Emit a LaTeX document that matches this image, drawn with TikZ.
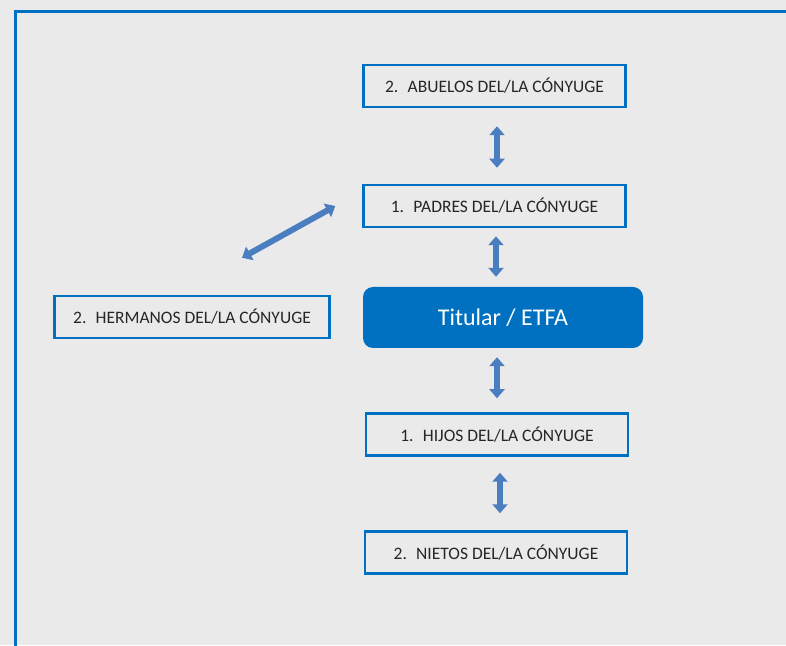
\documentclass[tikz,border=0pt]{standalone}
\usepackage{fontspec}
\setmainfont{Carlito}
\usetikzlibrary{positioning}
\usetikzlibrary{arrows.meta}
\definecolor{marco}{RGB}{0,112,192}
\definecolor{fondo}{RGB}{234,234,234}
\definecolor{flecha}{RGB}{74,126,193}
\definecolor{texto}{RGB}{38,38,38}

\begin{document}
\begin{tikzpicture}[x=1pt,y=1pt,node distance=117pt,
        pariente/.style={draw=marco,line width=2.5pt,minimum width=262pt,minimum height=42pt,
            inner sep=0pt,text=texto,font=\fontsize{17.5}{20}\selectfont},
        titular/.style={fill=marco,rounded corners=10pt,minimum width=280pt,minimum height=61pt,
            text=white,font=\fontsize{24}{28}\selectfont},
        flechas/.style={draw=flecha,line width=6pt,
            {Triangle[width=15pt,length=9pt]}-{Triangle[width=15pt,length=9pt]}}]

  % fondo y marco
  \useasboundingbox (0,0) rectangle (786,645);
  \clip (0,0) rectangle (786,645);
  \fill[fondo] (0,0) rectangle (786,645);
  \draw[marco,line width=3pt] (15,-20) -- (15,633) -- (800,633);

  \node[titular] (tit) at (503,327.5) {Titular / ETFA};
  \node[pariente] (pad) [above of=tit,xshift=-8.5pt,yshift=-5.5pt] {1.~ PADRES DEL/LA CÓNYUGE};
  \node[pariente] (abu) [above of=pad,yshift=3pt] {2.~ ABUELOS DEL/LA CÓNYUGE};
  \node[pariente] (hij) [below of=tit,xshift=-6pt] {1.~ HIJOS DEL/LA CÓNYUGE};
  \node[pariente] (nie) [below of=hij,xshift=-1pt,yshift=-1pt] {2.~ NIETOS DEL/LA CÓNYUGE};
  \node[pariente,minimum width=275pt] (her) at (192,328) {2.~ HERMANOS DEL/LA CÓNYUGE};

  \coordinate (diagA) at ([xshift=-27pt]pad.west);
  \coordinate (diagB) at ([xshift=50pt,yshift=37pt]her.north);

  \draw[flechas,shorten <=18pt,shorten >=16pt] ([xshift=2.5pt]abu.south) -- ([xshift=2.5pt]pad.north);
  \draw[flechas,shorten <=8pt,shorten >=10pt] ([xshift=1.5pt]pad.south) -- ([xshift=1.5pt]pad.south |- tit.north);
  \draw[flechas,shorten <=9pt,shorten >=14pt] (hij.north |- tit.south) -- (hij.north);
  \draw[flechas,shorten <=16pt,shorten >=17pt] ([xshift=3pt]hij.south) -- ([xshift=3pt]hij.south |- nie.north);
  \draw[flechas] (diagA) -- (diagB);

\end{tikzpicture}
\end{document}
